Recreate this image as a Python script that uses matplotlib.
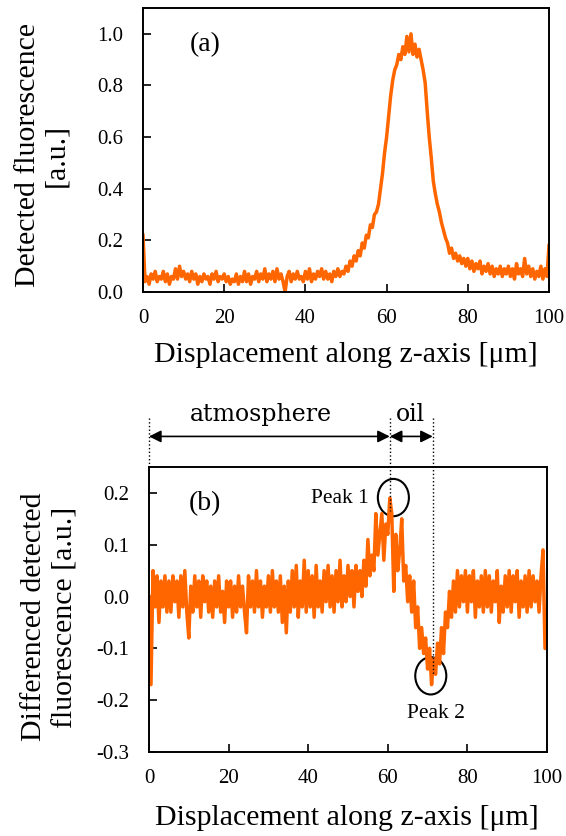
import numpy as np
import matplotlib
matplotlib.use("Agg")
import matplotlib.pyplot as plt
from matplotlib.patches import Ellipse

plt.rcParams['font.family'] = ['Liberation Serif', 'DejaVu Serif']
plt.rcParams['mathtext.fontset'] = 'stix'

# displacement along z (um), 0.5 um steps
z = np.arange(0, 100.5, 0.5)

# (a) detected fluorescence
fluor = [
    0.22, 0.04, 0.06, 0.03, 0.07, 0.05, 0.08, 0.04, 0.06, 0.05,
    0.08, 0.04, 0.07, 0.03, 0.06, 0.05, 0.09, 0.05, 0.10, 0.06,
    0.08, 0.05, 0.07, 0.04, 0.08, 0.05, 0.07, 0.03, 0.06, 0.04,
    0.07, 0.05, 0.06, 0.03, 0.07, 0.05, 0.08, 0.04, 0.06, 0.05,
    0.07, 0.04, 0.06, 0.03, 0.05, 0.04, 0.07, 0.03, 0.06, 0.04,
    0.08, 0.04, 0.07, 0.03, 0.06, 0.05, 0.08, 0.04, 0.07, 0.05,
    0.09, 0.04, 0.07, 0.05, 0.08, 0.04, 0.09, 0.05, 0.07, 0.04,
    0.00, 0.06, 0.08, 0.04, 0.07, 0.05, 0.08, 0.05, 0.06, 0.04,
    0.08, 0.05, 0.09, 0.04, 0.07, 0.05, 0.08, 0.06, 0.09, 0.05,
    0.08, 0.05, 0.07, 0.04, 0.08, 0.06, 0.09, 0.06, 0.08, 0.07,
    0.10, 0.08, 0.12, 0.10, 0.14, 0.12, 0.16, 0.14, 0.19, 0.17,
    0.22, 0.21, 0.26, 0.25, 0.30, 0.31, 0.34, 0.40, 0.46, 0.54,
    0.60, 0.68, 0.76, 0.82, 0.86, 0.88, 0.92, 0.90, 0.95, 0.92,
    0.99, 0.93, 1.00, 0.92, 0.96, 0.91, 0.94, 0.90, 0.86, 0.81,
    0.70, 0.60, 0.52, 0.43, 0.38, 0.34, 0.31, 0.27, 0.24, 0.21,
    0.19, 0.15, 0.17, 0.13, 0.15, 0.12, 0.14, 0.11, 0.13, 0.10,
    0.13, 0.09, 0.12, 0.08, 0.11, 0.09, 0.12, 0.07, 0.10, 0.08,
    0.11, 0.07, 0.10, 0.06, 0.09, 0.07, 0.10, 0.06, 0.09, 0.07,
    0.10, 0.06, 0.09, 0.05, 0.11, 0.07, 0.09, 0.06, 0.13, 0.07,
    0.10, 0.06, 0.09, 0.05, 0.08, 0.06, 0.10, 0.05, 0.09, 0.06,
    0.18,
]

# (b) differenced fluorescence
diff = [
    0.00, -0.17, 0.05, -0.02, 0.04, -0.05, 0.03, -0.02, 0.04, -0.03,
    0.03, -0.03, 0.04, -0.01, 0.03, -0.04, 0.04, -0.02, 0.05, -0.03,
    -0.08, 0.02, -0.03, 0.04, -0.02, 0.03, -0.04, 0.04, -0.01, 0.03,
    -0.03, 0.02, -0.04, 0.03, -0.02, 0.04, -0.03, 0.01, -0.05, 0.03,
    -0.02, 0.03, -0.04, 0.02, -0.03, 0.04, -0.02, 0.02, -0.03, -0.07,
    0.04, -0.02, 0.03, -0.03, 0.05, -0.02, 0.03, -0.04, 0.02, -0.02,
    0.04, -0.03, 0.05, -0.02, 0.03, -0.03, 0.04, -0.05, 0.02, -0.07,
    0.03, -0.03, 0.05, -0.02, 0.06, -0.04, 0.03, -0.02, 0.07, -0.03,
    0.05, -0.02, 0.04, -0.04, 0.06, -0.02, 0.03, -0.03, 0.05, -0.01,
    0.06, -0.02, 0.04, -0.03, 0.05, -0.01, 0.07, -0.02, 0.04, -0.01,
    0.06, 0.00, 0.05, -0.02, 0.06, 0.01, 0.05, 0.00, 0.07, 0.02,
    0.11, 0.04, 0.08, 0.05, 0.16, 0.08, 0.12, 0.16, 0.07, 0.14,
    0.12, 0.19, 0.16, 0.01, 0.12, 0.05, 0.09, 0.15, 0.03, 0.06,
    -0.01, 0.04, -0.03, 0.03, -0.06, -0.02, -0.10, -0.06, -0.11, -0.08,
    -0.14, -0.10, -0.17, -0.12, -0.15, -0.09, -0.13, -0.06, -0.11, -0.03,
    -0.06, 0.01, -0.04, 0.03, -0.03, 0.05, -0.02, 0.04, -0.01, 0.05,
    -0.03, 0.04, -0.01, 0.05, -0.04, 0.03, -0.02, 0.04, -0.03, 0.05,
    -0.02, 0.04, -0.03, 0.03, -0.01, 0.05, -0.05, 0.02, -0.03, 0.04,
    -0.02, 0.05, -0.03, 0.04, -0.01, 0.05, -0.04, 0.03, -0.02, 0.04,
    -0.03, 0.05, -0.02, 0.04, -0.01, 0.03, -0.03, 0.04, 0.09, -0.10,
    -0.10,
]

x_ticks = [0, 20, 40, 60, 80, 100]
ya_ticks = [0.0, 0.2, 0.4, 0.6, 0.8, 1.0]
yb_ticks = [-0.3, -0.2, -0.1, 0.0, 0.1, 0.2]

# region boundaries and peaks in (b)
bound_atm = 60.5
bound_oil = 71.3
peak1 = (61.4, 0.191)
peak2 = (70.8, -0.153)

orange = '#ff6600'
W, H = 566, 836

fig = plt.figure(figsize=(W / 100, H / 100), dpi=100)
ax1 = fig.add_axes([143 / W, 1 - 292 / H, 406 / W, 284 / H])
ax2 = fig.add_axes([149 / W, 1 - 752 / H, 398 / W, 285 / H])


def style_axis(ax, yticks, fmt):
    ax.set_xlim(0, 100)
    ax.set_xticks(x_ticks)
    ax.set_yticks(yticks)
    ax.set_yticklabels([fmt.format(v) for v in yticks])
    ax.tick_params(direction='in', length=6, width=1.2, labelsize=15)
    ax.tick_params(axis='x', pad=12)
    ax.tick_params(axis='y', pad=14)
    for s in ax.spines.values():
        s.set_linewidth(1.4)


ax1.plot(z, fluor, color=orange, lw=2.5)
ax1.set_ylim(0, 1.1)
style_axis(ax1, ya_ticks, '{:.1f}')
ax1.text(0.153, 0.87, '(a)', transform=ax1.transAxes, fontsize=20, ha='center', va='center')

ax2.plot(z, diff, color=orange, lw=2.5)
ax2.set_ylim(-0.3, 0.25)
style_axis(ax2, yb_ticks, '{:.1f}')
ax2.text(0.14, 0.87, '(b)', transform=ax2.transAxes, fontsize=20, ha='center', va='center')

# peak markers
for (px, py) in [peak1, peak2]:
    ax2.add_patch(Ellipse((px, py), 7.8, 0.072, fill=False, lw=1.5, color='black'))
ax2.text(55.3, 0.19, 'Peak 1', fontsize=15.5, ha='right', va='center')
ax2.text(72.0, -0.225, 'Peak 2', fontsize=15.5, ha='center', va='center')

# region boundaries
ax2.plot([0, 0], [0.345, 0.25], ':', color='black', lw=1, clip_on=False)
ax2.plot([bound_atm, bound_atm], [0.345, 0.165], ':', color='black', lw=1, clip_on=False)
ax2.plot([bound_oil, bound_oil], [0.345, -0.15], ':', color='black', lw=1, clip_on=False)
arrow = dict(arrowstyle='<|-|>', color='black', lw=1.2, mutation_scale=18, shrinkA=0, shrinkB=0)
ax2.annotate('', xy=(0, 0.309), xytext=(bound_atm, 0.309), arrowprops=arrow, annotation_clip=False)
ax2.annotate('', xy=(bound_atm, 0.309), xytext=(bound_oil, 0.309), arrowprops=arrow, annotation_clip=False)
ax2.text(28, 0.352, 'atmosphere', fontsize=17, family='DejaVu Serif', ha='center', va='center')
ax2.text(65.6, 0.352, 'oil', fontsize=17, family='DejaVu Serif', ha='center', va='center')

# axis titles
fig.text(346 / W, 1 - 355 / H, 'Displacement along z-axis [μm]', fontsize=21.5, ha='center', va='center')
fig.text(347 / W, 1 - 818 / H, 'Displacement along z-axis [μm]', fontsize=21.5, ha='center', va='center')
fig.text(42 / W, 1 - 155 / H, 'Detected fluorescence\n[a.u.]', fontsize=21.5, rotation=90,
         ha='center', va='center', linespacing=1.1, multialignment='center')
fig.text(50 / W, 1 - 617 / H, 'Differenced detected\nfluorescence [a.u.]', fontsize=21.5, rotation=90,
         ha='center', va='center', linespacing=1.25, multialignment='center')

fig.savefig('out.png', dpi=100)
